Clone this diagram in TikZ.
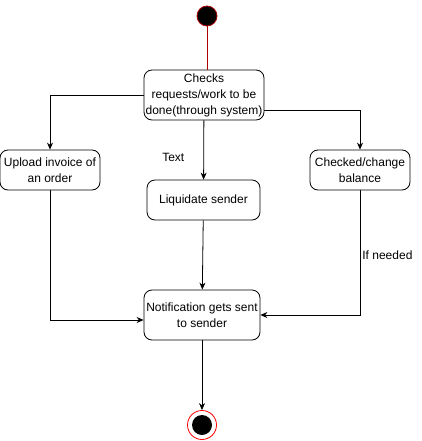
\documentclass[tikz,border=0pt]{standalone}
\usepackage{fontspec}
\setmainfont{Liberation Sans}
\usetikzlibrary{positioning, arrows.meta}
\definecolor{startred}{RGB}{170,0,0}
\tikzset{
  act/.style={draw, rounded corners=8pt, align=center, inner sep=1pt, line width=0.8pt,
    font=\fontsize{12}{16}\selectfont},
  flow/.style={line width=0.8pt, -{Stealth[length=7pt,width=6pt]}},
  lbl/.style={font=\fontsize{12}{14}\selectfont, inner sep=1pt}
}
\begin{document}
\begin{tikzpicture}[x=1pt, y=-1pt]
\useasboundingbox (0,0) rectangle (421,441);
\node[circle, draw=startred, fill=black, line width=0.8pt, minimum size=20pt, inner sep=0pt] (start) at (207,16) {};
\node[act, minimum width=120pt, minimum height=50pt] (check) at (204,95) {Checks\\requests/work to be\\done(through system)};
\node[act, minimum width=100pt, minimum height=40pt] (upload) at (50,170) {Upload invoice of\\an order};
\node[act, minimum width=100pt, minimum height=40pt] (checked) at (360,170) {Checked/change\\balance};
\node[act, minimum width=113pt, minimum height=40pt] (liq) at (203.5,200) {Liquidate sender};
\node[act, minimum width=116pt, minimum height=50pt] (notif) at (202,315) {Notification gets sent\\to sender};
\node[circle, draw=red, fill=white, line width=0.8pt, minimum size=29pt, inner sep=0pt] (end) at (202,425) {};
\node[circle, fill=black, minimum size=20pt, inner sep=0pt] (endin) at (end) {};

\draw[startred, line width=0.8pt] (start) -- (start |- check.north);
\draw[flow] (check.west) -| (upload);
\draw[flow] ([yshift=-15pt]check.east) -| (checked);
\draw[flow] (check) -- node[lbl, pos=.63, left=18pt] {Text} (liq);
\draw[flow] (liq) -- (notif);
\draw[flow] (upload) |- ([yshift=-5pt]notif.west);
\draw[flow] (checked) |- node[lbl, pos=.26, right=1pt] {If needed} (notif.east);
\draw[flow] (notif) -- (end);
\end{tikzpicture}
\end{document}
